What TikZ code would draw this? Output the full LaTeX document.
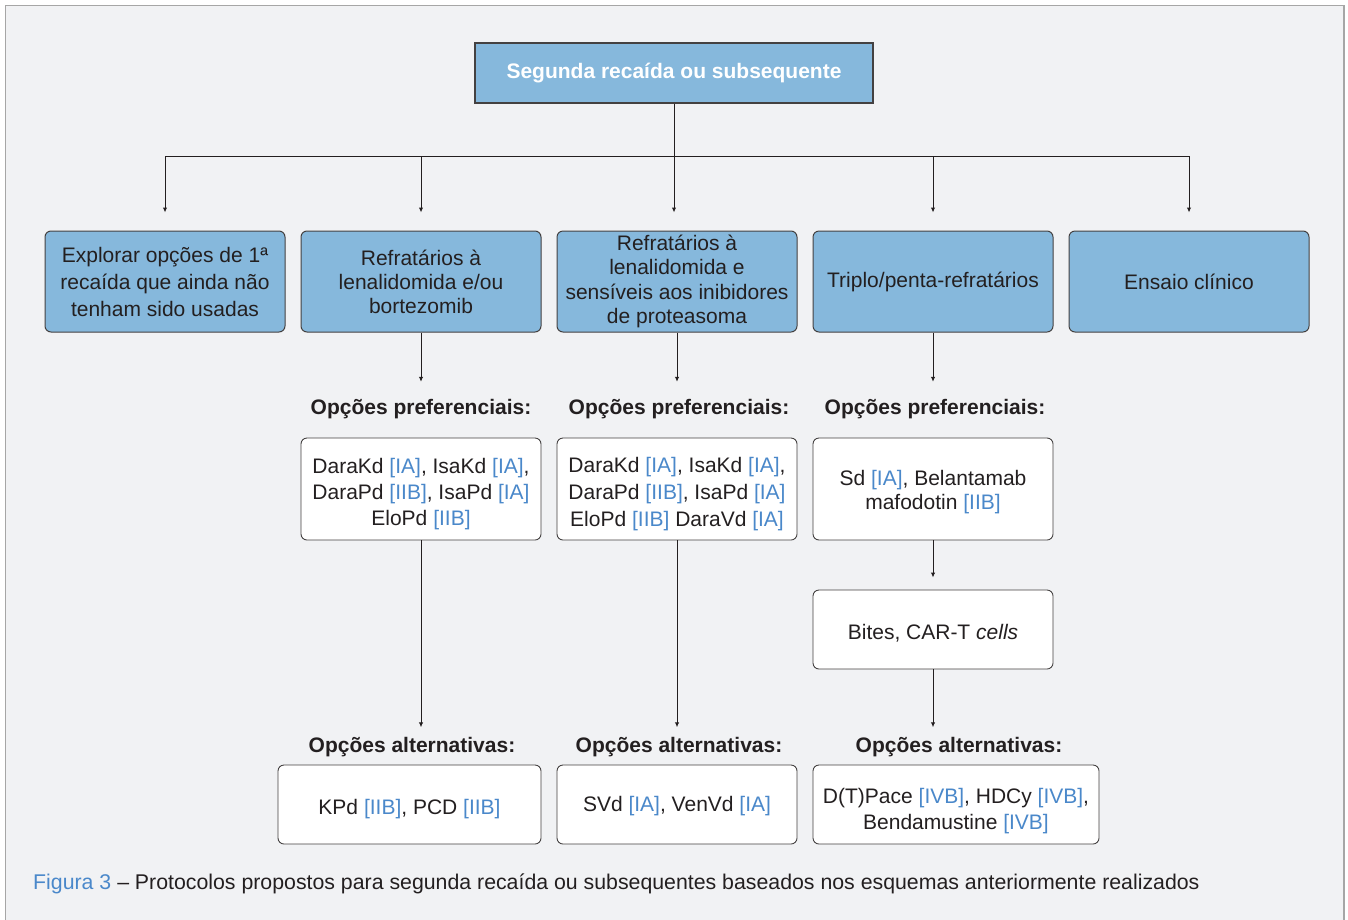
\documentclass[tikz,border=0pt]{standalone}
\usepackage{fontspec}
\setmainfont{Liberation Sans}
\usepackage{tikz}
\usetikzlibrary{positioning,arrows.meta}
\definecolor{boxblue}{HTML}{86B8DC}
\definecolor{refblue}{HTML}{4A88CA}
\definecolor{ink}{HTML}{231F20}
\definecolor{panel}{HTML}{F1F2F4}
\newcommand{\ev}[1]{\textcolor{refblue}{[#1]}}
\newcommand{\dn}[1]{\rule{0pt}{#1pt}}

\begin{document}
\begin{tikzpicture}[x=1pt, y=-1pt,
  root/.style={draw=ink!85, fill=boxblue, line width=1.3pt, minimum width=398pt,
    minimum height=60pt, text=white, font=\fontsize{21}{26}\selectfont\bfseries},
  group/.style={draw=ink!85, fill=boxblue, rounded corners=6pt, line width=1pt,
    minimum width=240pt, minimum height=101pt, align=center, inner sep=3pt,
    text=ink, font=\fontsize{21}{26}\selectfont},
  option/.style={draw=ink!85, fill=white, rounded corners=6pt, line width=0.9pt,
    minimum width=240pt, minimum height=102pt, align=center, inner sep=3pt,
    text=ink, font=\fontsize{21}{26}\selectfont},
  head/.style={font=\fontsize{21}{26}\selectfont\bfseries, text=ink, inner sep=0pt,
    text height=15pt, text depth=4pt},
  link/.style={line width=1pt, draw=ink},
  arr/.style={-{Latex[length=5pt,width=4.5pt]}, line width=1pt, draw=ink}
]
\useasboundingbox (0,0) rectangle (1348,919);
\begin{scope}
  \clip (0,0) rectangle (1348,919);
  \draw[gray!70, fill=panel, line width=1.5pt] (5.5,5.5) rectangle (1344,940);
\end{scope}

% top of the tree
\node[root] (top) at (674,73) {Segunda recaída ou subsequente};
\coordinate (split) at (674,156);

% patient groups
\node[group, font=\fontsize{21}{27}\selectfont] (explore) at (165,281.5) {Explorar opções de 1ª\\recaída que ainda não\\tenham sido usadas};
\node[group, right=15pt of explore, font=\fontsize{21}{24}\selectfont] (lenbor) {Refratários à\\lenalidomida e/ou\\bortezomib};
\node[group, right=15pt of lenbor, font=\fontsize{21}{24.5}\selectfont] (lenpi) {Refratários à\\lenalidomida e\\sensíveis aos inibidores\\de proteasoma};
\node[group, right=15pt of lenpi] (triple) {Triplo/penta-refratários};
\node[group, right=15pt of triple] (trial) {Ensaio clínico};

% preferred options
\node[head] (pref1) at (421,408.5) {Opções preferenciais:};
\node[head] (pref2) at (679,408.5) {Opções preferenciais:};
\node[head] (pref3) at (935,408.5) {Opções preferenciais:};
\node[option] (opt1) at (421,489) {\dn{25.5}DaraKd \ev{IA}, IsaKd \ev{IA},\\DaraPd \ev{IIB}, IsaPd \ev{IA}\\EloPd \ev{IIB}};
\node[option, font=\fontsize{21}{27}\selectfont] (opt2) at (677,489) {\dn{25.5}DaraKd \ev{IA}, IsaKd \ev{IA},\\DaraPd \ev{IIB}, IsaPd \ev{IA}\\EloPd \ev{IIB} DaraVd \ev{IA}};
\node[option, font=\fontsize{21}{24}\selectfont] (sd) at (933,489) {\dn{21.5}Sd \ev{IA}, Belantamab\\mafodotin \ev{IIB}};
\node[option, minimum height=79pt] (bites) at (933,629.5) {\dn{23.5}Bites, CAR-T \textit{cells}};

% alternative options
\node[head] (alt1) at (412,747) {Opções alternativas:};
\node[head] (alt2) at (679,747) {Opções alternativas:};
\node[head] (alt3) at (959,747) {Opções alternativas:};
\node[option, minimum width=263pt, minimum height=79pt] (kpd) at (409.5,804.5) {\dn{23.5}KPd \ev{IIB}, PCD \ev{IIB}};
\node[option, minimum height=79pt] (svd) at (677,804.5) {\dn{17.5}SVd \ev{IA}, VenVd \ev{IA}};
\node[option, minimum width=286pt, minimum height=79pt] (pace) at (956,804.5) {\dn{27.5}D(T)Pace \ev{IVB}, HDCy \ev{IVB},\\Bendamustine \ev{IVB}};

\node[anchor=base west, inner sep=0pt, text=ink, font=\fontsize{21.3}{25}\selectfont] (caption) at (33,889)
  {\textcolor{refblue}{Figura 3} – Protocolos propostos para segunda recaída ou subsequentes baseados nos esquemas anteriormente realizados};

% connectors
\draw[link] (top.south) -- (split);
\draw[arr, shorten >=18pt] (split) -- (split |- lenpi.north);
\foreach \g in {explore, lenbor, triple, trial}
  \draw[arr, shorten >=18pt] (split) -| (\g.north);
\draw[arr, shorten >=17pt] (lenbor.south) -- (lenbor.south |- pref1.north);
\draw[arr, shorten >=17pt] (lenpi.south) -- (lenpi.south |- pref2.north);
\draw[arr, shorten >=17pt] (triple.south) -- (triple.south |- pref3.north);
\draw[arr, shorten >=10pt] (opt1.south) -- (opt1.south |- alt1.north);
\draw[arr, shorten >=10pt] (opt2.south) -- (opt2.south |- alt2.north);
\draw[arr, shorten >=12pt] (sd) -- (bites);
\draw[arr, shorten >=10pt] (bites.south) -- (bites.south |- alt3.north);
\end{tikzpicture}
\end{document}
